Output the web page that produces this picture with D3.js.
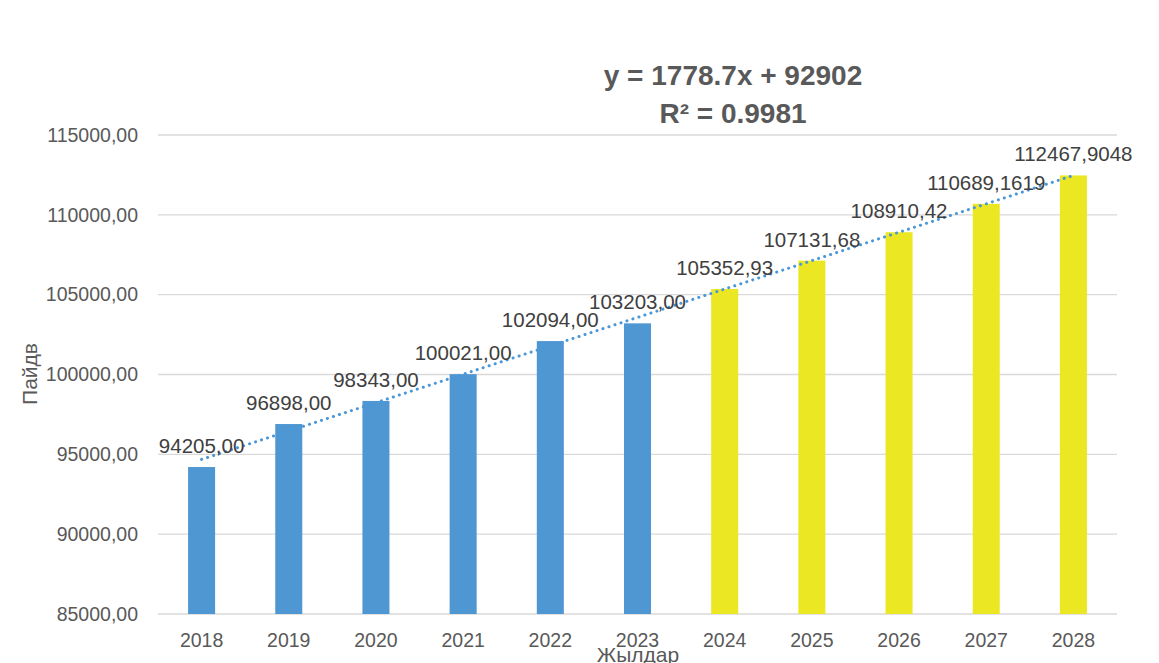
<!DOCTYPE html>
<html>
<head>
<meta charset="utf-8">
<script src="https://cdn.jsdelivr.net/npm/d3@7"></script>
<style>
  html, body { margin: 0; padding: 0; background: #fff; }
  svg { display: block; font-family: "Liberation Sans", Arial, sans-serif; }
</style>
</head>
<body>
<svg id="chart" width="1159" height="663"></svg>
<script>
// Years and profit values (actual 2018–2023, forecast 2024–2028)
const years = ["2018", "2019", "2020", "2021", "2022", "2023", "2024", "2025", "2026", "2027", "2028"];
const values = [94205.00, 96898.00, 98343.00, 100021.00, 102094.00, 103203.00,
                105352.93, 107131.68, 108910.42, 110689.1619, 112467.9048];
const valueLabels = ["94205,00", "96898,00", "98343,00", "100021,00", "102094,00", "103203,00",
                     "105352,93", "107131,68", "108910,42", "110689,1619", "112467,9048"];
const isForecast = [false, false, false, false, false, false, true, true, true, true, true];
const yTicks = [85000, 90000, 95000, 100000, 105000, 110000, 115000];
// Linear trend: y = 1778.7x + 92902, x = 1..11
const trendSlope = 1778.7;
const trendIntercept = 92902;
const trendText = ["y = 1778.7x + 92902", "R² = 0.9981"];
const xTitle = "Жылдар";
const yTitle = "Пайдв";

const svg = d3.select("#chart");
const plotLeft = 158, plotRight = 1117, plotTop = 135, plotBottom = 614;

const x = d3.scaleBand().domain(years).range([plotLeft, plotRight]).paddingInner(0.69).paddingOuter(0.345);
const y = d3.scaleLinear().domain([85000, 115000]).range([plotBottom, plotTop]);

const fmt = v => d3.format(".2f")(v).replace(".", ",");

// gridlines
svg.append("g").selectAll("line").data(yTicks).join("line")
  .attr("x1", plotLeft).attr("x2", plotRight)
  .attr("y1", d => y(d)).attr("y2", d => y(d))
  .attr("stroke", "#d9d9d9").attr("stroke-width", 1.3);

// y tick labels
svg.append("g").selectAll("text").data(yTicks).join("text")
  .attr("x", 138).attr("y", d => y(d)).attr("dy", "0.35em")
  .attr("text-anchor", "end").attr("font-size", 19.5).attr("fill", "#595959")
  .text(fmt);

// bars
svg.append("g").selectAll("rect").data(values).join("rect")
  .attr("x", (d, i) => x(years[i]))
  .attr("width", x.bandwidth())
  .attr("y", d => y(d))
  .attr("height", d => plotBottom - y(d))
  .attr("fill", (d, i) => isForecast[i] ? "#ebe823" : "#4f97d3");

// x tick labels
svg.append("g").selectAll("text").data(years).join("text")
  .attr("x", d => x(d) + x.bandwidth() / 2).attr("y", 647)
  .attr("text-anchor", "middle").attr("font-size", 19.5).attr("fill", "#595959")
  .text(d => d);

// trendline (dotted)
const trendPts = years.map((d, i) => [x(d) + x.bandwidth() / 2, y(trendSlope * (i + 1) + trendIntercept)]);
svg.append("path")
  .attr("d", d3.line()(trendPts))
  .attr("fill", "none").attr("stroke", "#4a97d8").attr("stroke-width", 3)
  .attr("stroke-linecap", "round").attr("stroke-dasharray", "0.1 6.2");

// data labels
svg.append("g").selectAll("text").data(values).join("text")
  .attr("x", (d, i) => x(years[i]) + x.bandwidth() / 2)
  .attr("y", d => y(d) - 14)
  .attr("text-anchor", "middle").attr("font-size", 20.5).attr("fill", "#404040")
  .text((d, i) => valueLabels[i]);

// trend equation
svg.append("g").selectAll("text").data(trendText).join("text")
  .attr("x", 733).attr("y", (d, i) => 85 + i * 38)
  .attr("text-anchor", "middle").attr("font-size", 28).attr("font-weight", "bold")
  .attr("fill", "#595959")
  .text(d => d);

// axis titles
svg.append("text")
  .attr("x", 638).attr("y", 662)
  .attr("text-anchor", "middle").attr("font-size", 21).attr("fill", "#595959")
  .text(xTitle);

svg.append("text")
  .attr("transform", "translate(37,374) rotate(-90)")
  .attr("text-anchor", "middle").attr("font-size", 21).attr("fill", "#595959")
  .text(yTitle);
</script>
</body>
</html>
